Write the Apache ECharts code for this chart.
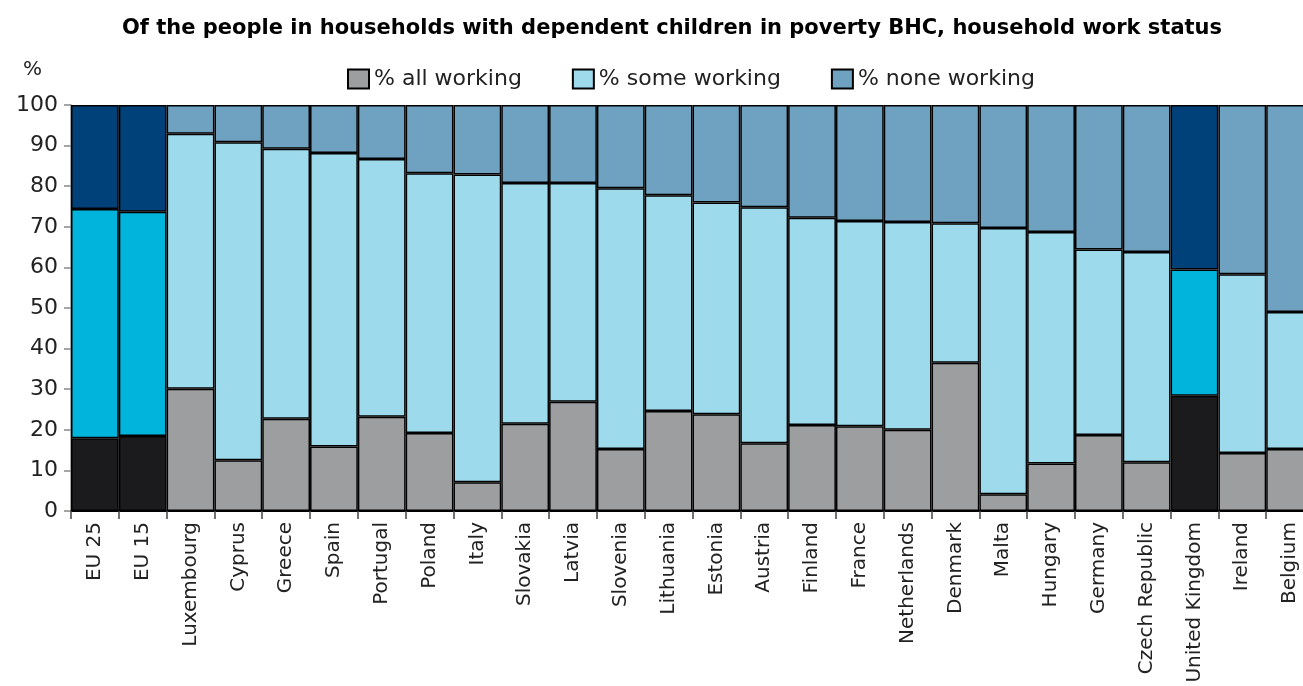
<!DOCTYPE html>
<html>
<head>
<meta charset="utf-8">
<script src="https://cdn.jsdelivr.net/npm/echarts@6/dist/echarts.min.js"></script>
<style>html,body{margin:0;padding:0;background:#fff;}#c{width:1303px;height:686px;}</style>
</head>
<body>
<div id="c"></div>
<script>
const categories = ["EU 25","EU 15","Luxembourg","Cyprus","Greece","Spain","Portugal","Poland","Italy","Slovakia","Latvia","Slovenia","Lithuania","Estonia","Austria","Finland","France","Netherlands","Denmark","Malta","Hungary","Germany","Czech Republic","United Kingdom","Ireland","Belgium"];
const allWorking  = [17.9,18.5,30.1,12.5,22.7,15.9,23.2,19.2,7.1,21.5,26.9,15.3,24.6,23.8,16.7,21.2,20.9,20.0,36.5,4.1,11.7,18.7,12.0,28.4,14.3,15.3];
const someWorking = [56.5,55.2,62.8,78.3,66.5,72.3,63.5,64.0,75.8,59.3,53.9,64.2,53.2,52.2,58.1,51.0,50.5,51.2,34.4,65.6,57.0,45.7,51.8,31.1,44.0,33.7];
const noneWorking = [25.6,26.3,7.1,9.2,10.8,11.8,13.3,16.8,17.1,19.2,19.2,20.5,22.2,24.0,25.2,27.8,28.6,28.8,29.1,30.3,31.3,35.6,36.2,40.5,41.7,51.0];
const highlighted = ["EU 25","EU 15","United Kingdom"];
const yTicks = [0,10,20,30,40,50,60,70,80,90,100];

const baseColors = ['#9d9ea0','#9cdaec','#6ea2c0'];
const hiColors = ['#1b1a1d','#00b4dc','#00417a'];
const names = ['% all working','% some working','% none working'];
const values = [allWorking, someWorking, noneWorking];
const FONT = 'DejaVu Sans';

const series = values.map((arr, si) => ({
  name: names[si],
  type: 'bar',
  stack: 'total',
  barCategoryGap: 0,
  itemStyle: {color: baseColors[si], borderColor: '#000', borderWidth: 1.5},
  emphasis: {disabled: true},
  data: arr.map((v, i) => highlighted.includes(categories[i])
    ? {value: v, itemStyle: {color: hiColors[si], borderColor: '#000', borderWidth: 1.5}}
    : v)
}));

const chart = echarts.init(document.getElementById('c'));
chart.setOption({
  animation: false,
  textStyle: {fontFamily: FONT},
  title: {
    text: 'Of the people in households with dependent children in poverty BHC, household work status',
    left: 667, textAlign: 'center', top: 13,
    textStyle: {fontFamily: FONT, fontSize: 21, fontWeight: 'bold', color: '#000'}
  },
  legend: {
    left: 342, top: 63, itemWidth: 21, itemHeight: 19, itemGap: 50, icon: 'rect',
    textStyle: {fontFamily: FONT, fontSize: 22, color: '#222'},
    data: names
  },
  graphic: [{type: 'text', left: 23, top: 60, style: {text: '%', fontFamily: FONT, fontSize: 20, fill: '#222'}}],
  grid: {left: 71, top: 105, width: 1243, height: 406, containLabel: false, outerBoundsMode: 'none'},
  xAxis: {
    type: 'category', data: categories,
    axisLine: {lineStyle: {color: '#000', width: 2}},
    axisTick: {show: true, length: 8, lineStyle: {color: '#444', width: 1.5}},
    axisLabel: {rotate: 90, fontSize: 20, color: '#222', margin: 11, interval: 0, fontFamily: FONT, hideOverlap: false}
  },
  yAxis: {
    type: 'value', min: 0, max: 100, interval: 10,
    axisLine: {show: true, lineStyle: {color: '#888', width: 1.5}},
    axisTick: {show: true, length: 7, lineStyle: {color: '#888', width: 1.5}},
    splitLine: {show: false},
    axisLabel: {fontSize: 22, color: '#222', margin: 13, fontFamily: FONT,
      formatter: v => yTicks.includes(v) ? String(v) : ''}
  },
  series: series
});
</script>
</body>
</html>
